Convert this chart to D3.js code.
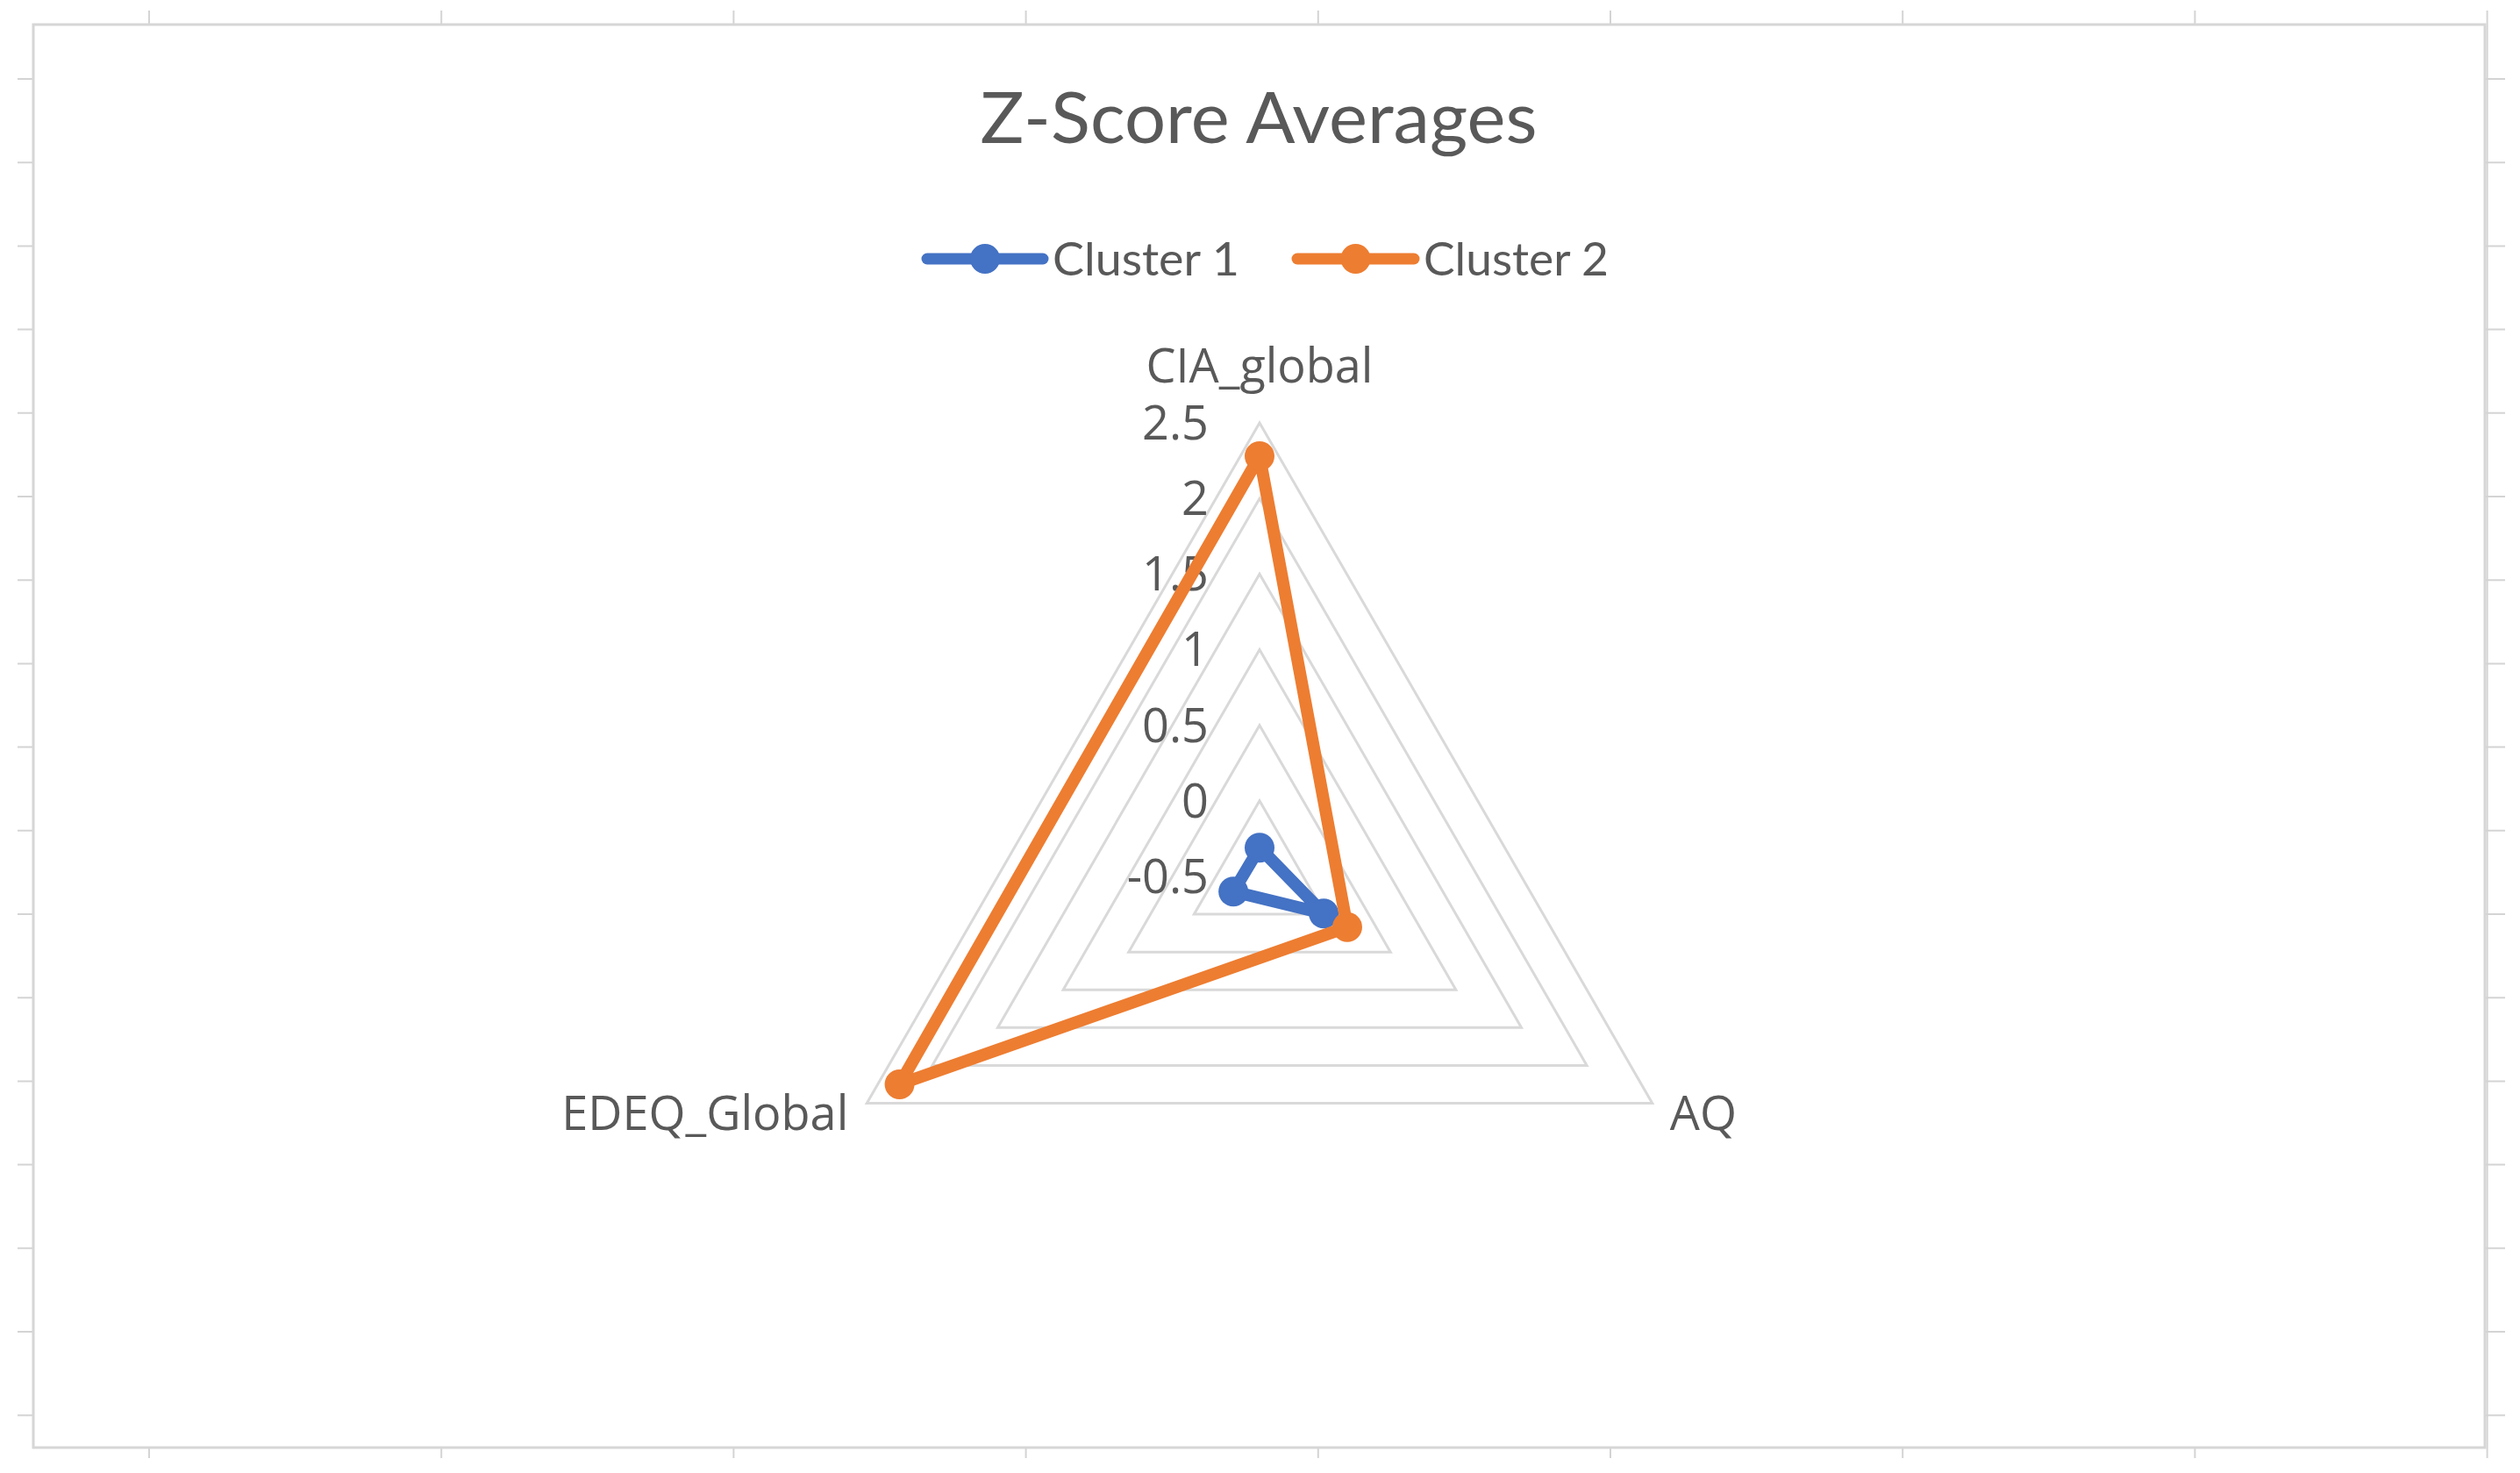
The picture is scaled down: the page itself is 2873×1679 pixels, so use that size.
<!DOCTYPE html>
<html>
<head>
<meta charset="utf-8">
<script src="https://cdn.jsdelivr.net/npm/d3@7"></script>
<style>
  body { margin: 0; background: #fff; }
  svg { display: block; }
</style>
</head>
<body>
<svg width="2873" height="1679"></svg>
<script>
// data
var categories = ["CIA_global", "AQ", "EDEQ_Global"];
var seriesNames = ["Cluster 1", "Cluster 2"];
var cluster1 = [-0.31, -0.01, -0.30];
var cluster2 = [2.28, 0.17, 2.25];
var ringTicks = [-0.5, 0, 0.5, 1, 1.5, 2, 2.5];
var tickLabels = ["-0.5", "0", "0.5", "1", "1.5", "2", "2.5"];
var colors = ["#4472C4", "#ED7D31"];

var series = [cluster1, cluster2];

var svg = d3.select("svg"),
    width = +svg.attr("width"),
    height = +svg.attr("height");

var textColor = "#595959";

// spreadsheet grid peeking out behind the chart
var sheet = svg.append("g");
var colX = d3.range(0, 9).map(function(i) { return 170 + i * 333.2; });
var rowY = d3.range(0, 17).map(function(i) { return 90 + i * 95.2; });

sheet.selectAll(".vgrid")
    .data(colX)
    .enter().append("line")
    .attr("x1", function(d) { return d; })
    .attr("x2", function(d) { return d; })
    .attr("y1", 12)
    .attr("y2", 1662)
    .attr("stroke", "#d4d4d4")
    .attr("stroke-width", 2);

sheet.selectAll(".hgrid")
    .data(rowY)
    .enter().append("line")
    .attr("x1", 20)
    .attr("x2", 2856)
    .attr("y1", function(d) { return d; })
    .attr("y2", function(d) { return d; })
    .attr("stroke", "#d4d4d4")
    .attr("stroke-width", 2);

// chart area
svg.append("rect")
    .attr("x", 38)
    .attr("y", 28)
    .attr("width", 2833 - 38)
    .attr("height", 1650 - 28)
    .attr("fill", "#fff")
    .attr("stroke", "#d6d6d6")
    .attr("stroke-width", 3);

// title
svg.append("text")
    .attr("x", 1435)
    .attr("y", 163)
    .attr("text-anchor", "middle")
    .attr("textLength", 635)
    .attr("lengthAdjust", "spacingAndGlyphs")
    .style("font-family", "Lato, 'Open Sans', sans-serif")
    .style("font-size", "82px")
    .style("fill", textColor)
    .text("Z-Score Averages");

// legend
var legendItems = [
    {line: [1057, 1189], text: 1200, len: 213},
    {line: [1479, 1612], text: 1623, len: 211}
];

var legend = svg.append("g").attr("transform", "translate(0, 295)");

legendItems.forEach(function(it, i) {
    legend.append("line")
        .attr("x1", it.line[0])
        .attr("x2", it.line[1])
        .attr("y1", 0)
        .attr("y2", 0)
        .attr("stroke", colors[i])
        .attr("stroke-width", 13)
        .attr("stroke-linecap", "round");
    legend.append("circle")
        .attr("cx", (it.line[0] + it.line[1]) / 2)
        .attr("cy", 0)
        .attr("r", 17)
        .attr("fill", colors[i]);
    legend.append("text")
        .attr("x", it.text)
        .attr("y", 19)
        .attr("textLength", it.len)
        .attr("lengthAdjust", "spacingAndGlyphs")
        .style("font-family", "Lato, 'Open Sans', sans-serif")
        .style("font-size", "53px")
        .style("fill", textColor)
        .text(seriesNames[i]);
});

// radar
var cx = 1436, cy = 999, R = 517;

var r = d3.scaleLinear().domain([-0.5, 2.5]).range([0, R]);
var angle = function(i) { return i * 2 * Math.PI / categories.length; };

var g = svg.append("g").attr("transform", "translate(" + cx + "," + cy + ")");

var ring = d3.lineRadial()
    .angle(function(d, i) { return angle(i); })
    .radius(function(d) { return r(d); })
    .curve(d3.curveLinearClosed);

g.selectAll(".ring")
    .data(ringTicks.filter(function(t) { return t > -0.5; }))
    .enter().append("path")
    .attr("class", "ring")
    .attr("d", function(t) { return ring(categories.map(function() { return t; })); })
    .attr("fill", "none")
    .attr("stroke", "#d9d9d9")
    .attr("stroke-width", 3);

// value labels along the top axis
g.selectAll(".tick-label")
    .data(ringTicks)
    .enter().append("text")
    .attr("class", "tick-label")
    .attr("x", -58)
    .attr("y", function(t) { return -r(t); })
    .attr("dy", "0.35em")
    .attr("text-anchor", "end")
    .style("font-family", "'Open Sans', sans-serif")
    .style("font-size", "54px")
    .style("fill", textColor)
    .text(function(t, i) { return tickLabels[i]; });

// category labels
var catPos = categories.map(function(c, i) { return d3.pointRadial(angle(i), R); });

g.append("text")
    .attr("x", catPos[0][0])
    .attr("y", catPos[0][1] - 46)
    .attr("text-anchor", "middle")
    .style("font-family", "'Open Sans', sans-serif")
    .style("font-size", "54px")
    .style("fill", textColor)
    .text(categories[0]);

g.append("text")
    .attr("x", catPos[1][0] + 20)
    .attr("y", catPos[1][1] + 12)
    .attr("dy", "0.35em")
    .attr("text-anchor", "start")
    .style("font-family", "'Open Sans', sans-serif")
    .style("font-size", "54px")
    .style("fill", textColor)
    .text(categories[1]);

g.append("text")
    .attr("x", catPos[2][0] - 21)
    .attr("y", catPos[2][1] + 12)
    .attr("dy", "0.35em")
    .attr("text-anchor", "end")
    .style("font-family", "'Open Sans', sans-serif")
    .style("font-size", "54px")
    .style("fill", textColor)
    .text(categories[2]);

// series
var seriesLine = d3.lineRadial()
    .angle(function(d, i) { return angle(i); })
    .radius(function(d) { return r(d); })
    .curve(d3.curveLinearClosed);

series.forEach(function(vals, s) {
    g.append("path")
        .attr("d", seriesLine(vals))
        .attr("fill", "none")
        .attr("stroke", colors[s])
        .attr("stroke-width", 14)
        .attr("stroke-linejoin", "round");

    g.selectAll(".pt" + s)
        .data(vals)
        .enter().append("circle")
        .attr("class", "pt" + s)
        .attr("cx", function(d, i) { return d3.pointRadial(angle(i), r(d))[0]; })
        .attr("cy", function(d, i) { return d3.pointRadial(angle(i), r(d))[1]; })
        .attr("r", 17)
        .attr("fill", colors[s]);
});
</script>
</body>
</html>
